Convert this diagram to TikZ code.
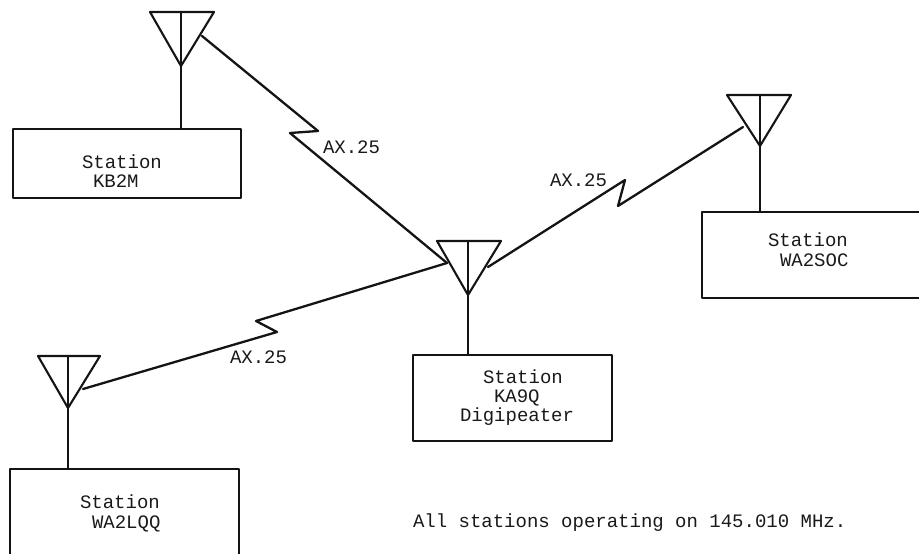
\documentclass[tikz,border=0pt]{standalone}
\usepackage{fontspec}
\setmainfont{Liberation Mono}
\begin{document}
\begin{tikzpicture}[x=1pt,y=-1pt,line join=round,line cap=round,
  wire/.style={draw=black!92,line width=2.3pt},
  thin wire/.style={draw=black!92,line width=2.1pt},
  stationbox/.style={draw=black!92,line width=2.1pt,rectangle,inner sep=0pt,outer sep=0pt},
  lbl/.style={inner sep=0pt,outer sep=0pt,anchor=base west,font=\fontsize{19}{21}\selectfont,text=black!90}]
\useasboundingbox (0,0) rectangle (919,554);
\newcommand{\stationat}[5]{% name, x1,y1,x2,y2
  \node[stationbox,minimum width={#4-#2},minimum height={#5-#3},anchor=north west] (#1) at (#2,#3) {};}
\newcommand{\antenna}[5]{% name, xl, xr, ytop, apex x/y
  \coordinate (#1l) at (#2,#4);
  \coordinate (#1r) at (#3,#4);
  \coordinate (#1a) at (#5);
  \draw[thin wire] (#1l) -- (#1r) -- (#1a) -- cycle;
  \draw[thin wire] (#1a) -- (#1a |- #1l);}
% boxes
\stationat{kb}{13}{129}{241}{198}
\stationat{ka}{413}{355}{612}{441}
\stationat{wa}{702}{212}{925}{298}
\stationat{lq}{10}{469}{239}{560}
% antennas
\antenna{A}{150}{214}{12}{181,66}
\antenna{B}{437}{501}{241}{468,295}
\antenna{C}{727}{791}{95}{760,146}
\antenna{D}{38}{100}{356}{68,408}
% stems
\draw[thin wire] (Aa) -- (Aa |- kb.north);
\draw[thin wire] (Ba) -- (Ba |- ka.north);
\draw[thin wire] (Ca) -- (Ca |- wa.north);
\draw[thin wire] (Da) -- (Da |- lq.north);
% link ends and zigzags
\coordinate (A1) at (202,36);
\coordinate (A2) at (318,131);
\coordinate (A3) at (290,133);
\coordinate (B1) at (447,263);
\coordinate (B2) at (488,267);
\coordinate (C1) at (743,127);
\coordinate (C2) at (618,206);
\coordinate (C3) at (625,180);
\coordinate (D1) at (83,389);
\coordinate (D2) at (277,332);
\coordinate (D3) at (256,321);
\draw[wire] (A1) -- (A2) -- (A3) -- (B1);
\draw[wire] (B2) -- (C3) -- (C2) -- (C1);
\draw[wire] (D1) -- (D2) -- (D3) -- (B1);
% labels
\node[lbl] (t1) at (82,168) {Station};
\node[lbl] (t2) at (93,187) {KB2M};
\node[lbl] (t3) at (483,383) {Station};
\node[lbl] (t4) at (494,402) {KA9Q};
\node[lbl] (t5) at (460,421) {Digipeater};
\node[lbl] (t6) at (768,246) {Station};
\node[lbl] (t7) at (780,266) {WA2SOC};
\node[lbl] (t8) at (80,508) {Station};
\node[lbl] (t9) at (92,528) {WA2LQQ};
\node[lbl] (l1) at (323,153) {AX.25};
\node[lbl] (l2) at (550,186) {AX.25};
\node[lbl] (l3) at (230,363) {AX.25};
\node[lbl] (n) at (413,527) {All stations operating on 145.010 MHz.};
\end{tikzpicture}
\end{document}
